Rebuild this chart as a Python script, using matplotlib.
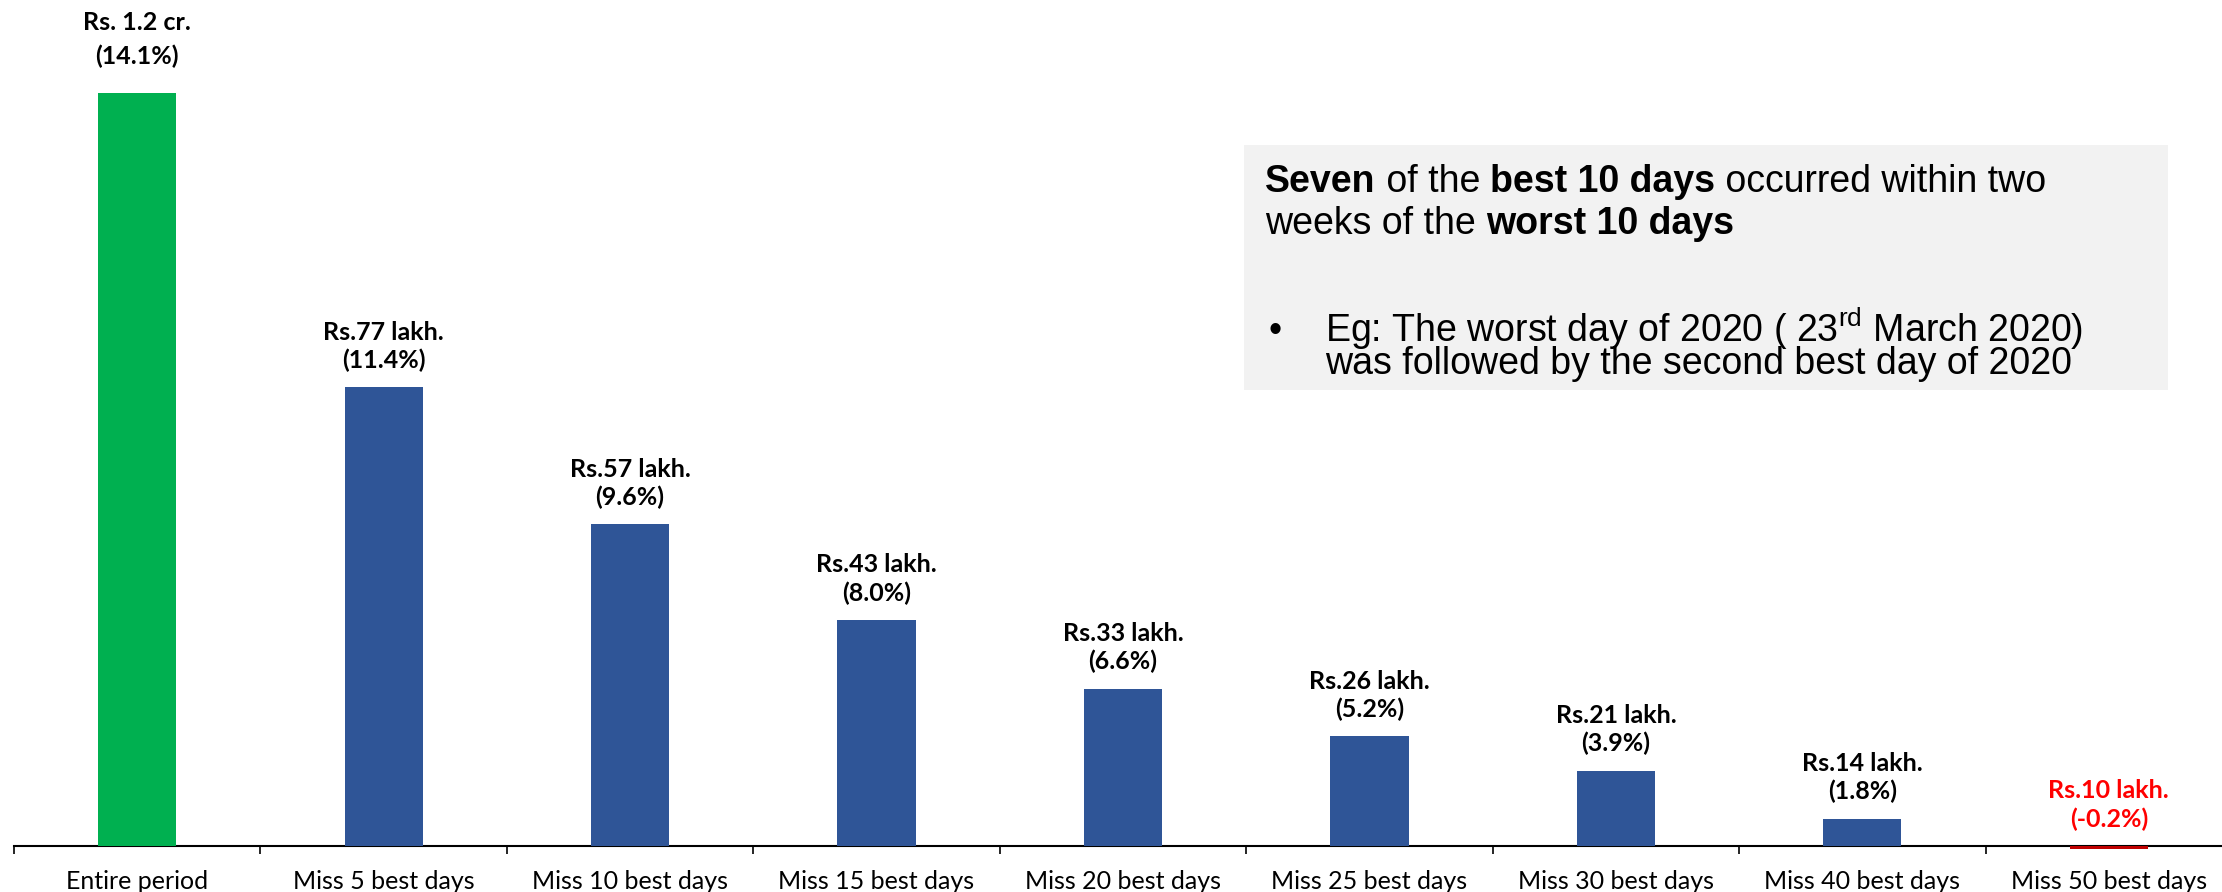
import matplotlib
matplotlib.use("Agg")
import matplotlib.pyplot as plt
from matplotlib.patches import Rectangle

# chart values (wealth in Rs. lakh, CAGR labels)
categories = ["Entire period", "Miss 5 best days", "Miss 10 best days", "Miss 15 best days",
              "Miss 20 best days", "Miss 25 best days", "Miss 30 best days", "Miss 40 best days",
              "Miss 50 best days"]
values = [120, 77, 57, 43, 33, 26, 21, 14, 9.5]
amount_labels = ["Rs. 1.2 cr.", "Rs.77 lakh.", "Rs.57 lakh.", "Rs.43 lakh.", "Rs.33 lakh.",
                 "Rs.26 lakh.", "Rs.21 lakh.", "Rs.14 lakh.", "Rs.10 lakh."]
cagr_labels = ["(14.1%)", "(11.4%)", "(9.6%)", "(8.0%)", "(6.6%)", "(5.2%)", "(3.9%)", "(1.8%)", "(-0.2%)"]
base_amount = 10

GREEN = "#00B050"
BLUE = "#2F5597"
DARK_RED = "#C00000"
RED = "#FF0000"

LABEL_FONT = "Lato"
BOX_FONT = "Liberation Sans"

plt.rcParams["mathtext.fontset"] = "custom"
plt.rcParams["mathtext.rm"] = BOX_FONT
plt.rcParams["mathtext.it"] = BOX_FONT + ":italic"
plt.rcParams["mathtext.bf"] = BOX_FONT + ":bold"

W, H = 2222, 892
fig = plt.figure(figsize=(W / 100, H / 100), dpi=100)
ax = fig.add_axes([14 / W, 46 / H, 2218 / W, 846 / H])

colors = []
for i, v in enumerate(values):
    if i == 0:
        colors.append(GREEN)
    elif v < base_amount:
        colors.append(DARK_RED)
    else:
        colors.append(BLUE)

x = list(range(len(categories)))
heights = [v - base_amount for v in values]
ax.bar(x, heights, bottom=base_amount, width=0.317, color=colors, zorder=2, clip_on=False)

ax.set_xlim(-0.5, len(categories) - 0.5)
ax.set_ylim(base_amount, base_amount + 846 / 6.845)

for side in ["left", "right", "top"]:
    ax.spines[side].set_visible(False)
ax.spines["bottom"].set_linewidth(1.5)
ax.spines["bottom"].set_color("black")
ax.spines["bottom"].set_zorder(1)
ax.set_yticks([])
ax.set_xticks(x)
ax.set_xticklabels(categories, fontsize=18, family=LABEL_FONT)
ax.tick_params(axis="x", which="major", length=0, pad=17)
ax.set_xticks([i - 0.5 for i in range(len(categories) + 1)], minor=True)
ax.tick_params(axis="x", which="minor", length=6, width=1.2, color="black")

for i, v in enumerate(values):
    col = RED if v < base_amount else "black"
    pad = 18 if i == 0 else 11
    ls = 1.55 if i == 0 else 1.25
    top = max(v, base_amount)
    ax.annotate(amount_labels[i] + "\n" + cagr_labels[i], (i, top), xytext=(0, pad),
                textcoords="offset points", ha="center", va="bottom", fontsize=18,
                fontweight="bold", family=LABEL_FONT, color=col, linespacing=ls)

# commentary box
fig.patches.append(Rectangle((1244 / W, (H - 390) / H), 924 / W, 245 / H,
                             transform=fig.transFigure, facecolor="#F2F2F2",
                             edgecolor="none", zorder=0))

renderer = fig.canvas.get_renderer()


def rich_line(x0, y0, parts, size=27):
    xp = x0
    for txt, bold in parts:
        t = fig.text(xp / W, (H - y0) / H, txt, fontsize=size, family=BOX_FONT,
                     fontweight="bold" if bold else "normal", ha="left", va="baseline")
        xp += t.get_window_extent(renderer).width
    return xp


rich_line(1265, 192, [("Seven", True), (" of the ", False), ("best 10 days", True),
                      (" occurred within two", False)])
rich_line(1265, 234, [("weeks of the ", False), ("worst 10 days", True)])
fig.text(1268 / W, (H - 342) / H, "•", fontsize=27, family=BOX_FONT, ha="left", va="baseline")
# baseline alignment of a multi-line text sits on its last line
fig.text(1325 / W, (H - 374) / H,
         "Eg: The worst day of 2020 ( 23$^{\\mathrm{rd}}$ March 2020)\n"
         "was followed by the second best day of 2020",
         fontsize=27, family=BOX_FONT, ha="left", va="baseline", linespacing=0.8)

fig.savefig("out.png", dpi=100)
